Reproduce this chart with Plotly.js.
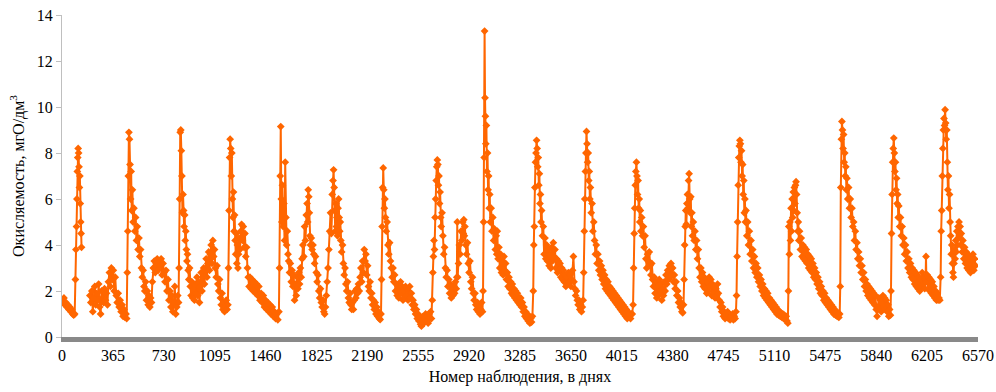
<!DOCTYPE html>
<html><head><meta charset="utf-8">
<script src="https://cdn.plot.ly/plotly-3.0.1.min.js"></script>
<style>html,body{margin:0;padding:0;background:#fff}#c{width:996px;height:392px}</style>
</head><body><div id="c"></div>
<script>
// [day, value] pairs, by season
const season1 = [[0,1.6],[7,1.5],[14,1.7],[21,1.4],[28,1.5],[35,1.3],[42,1.4],[49,1.2],[56,1.3],[63,1.1],[70,1.2],[77,1.0],[84,0.95],[91,1.0],[96,2.5],[100,3.8],[104,4.8],[107,6.0],[110,7.2],[113,7.8],[116,8.2],[119,8.0],[122,7.4],[125,6.5],[128,7.0],[131,5.8],[134,5.0],[137,4.5],[140,3.9]];
const season2 = [[200,1.8],[207,1.5],[214,2.0],[221,1.1],[228,1.7],[235,2.2],[242,1.4],[249,1.9],[256,1.6],[263,2.3],[270,1.3],[277,1.0],[284,2.0],[291,1.7],[298,1.5],[305,2.1],[312,1.6],[319,1.9],[326,1.4],[333,2.4],[340,2.8],[347,2.2],[354,3.0],[361,2.5],[368,2.9],[375,2.0],[382,2.6],[389,1.8],[396,1.5],[403,1.9],[410,1.3],[417,1.6],[424,1.1],[431,1.4],[438,0.9],[445,1.2],[452,0.85],[459,1.0],[464,0.8],
[468,2.8],[472,4.6],[476,7.0],[480,8.9],[484,8.6],[488,7.5],[492,6.0],[496,7.2],[500,5.5],[505,6.4],[510,5.0],[516,5.6],[522,4.6],[528,5.2],[534,4.2],[540,4.8],[546,3.8],[552,4.3],[558,3.5],[564,3.8],[570,3.0],[576,2.6],[582,2.9],[588,2.2],[594,2.0],[600,2.4],[606,1.6],[612,2.0],[618,1.4],[624,1.8],[630,1.3],[636,1.7],[642,1.5],
[648,2.4],[655,3.0],[662,3.3],[669,2.8],[676,3.2],[683,3.4],[690,2.9],[697,3.3],[704,3.1],[711,3.4],[718,2.7],[725,3.2],[732,2.8],[739,2.4],[746,2.9],[753,2.0],[760,2.5],[767,1.6],[774,2.0],[781,1.3],[788,1.8],[795,1.1],[802,1.5],[809,2.2],[816,1.0],[823,1.3],[830,1.8]];
const season3 = [[836,1.5],[840,3.0],[844,6.0],[848,8.9],[852,9.0],[856,8.1],[860,7.0],[864,5.4],[868,6.2],[872,5.5],[876,4.8],[880,5.3],[884,4.2],[888,4.6],[892,3.8],[896,3.3],[900,3.6],[905,2.9],[910,2.5],[915,3.0],[920,2.2],[926,1.8],[932,2.4],[938,1.7],[944,2.1],[950,1.6],[956,2.3],[962,1.9],[968,2.6],[974,1.8],[980,2.4],[986,1.5],[992,2.2],[998,2.8],[1004,2.0],[1010,2.6],[1016,3.0],[1022,2.3],[1028,2.9],[1034,3.4],[1040,2.6],[1046,3.2],[1052,3.7],[1058,2.9],[1064,3.6],[1070,4.0],[1076,3.2],[1082,4.2],[1088,3.5],[1094,3.8],[1100,3.0],[1106,2.6],[1112,3.1],[1118,2.3],[1124,2.0],[1130,2.5],[1136,1.7],[1142,1.4],[1148,1.9],[1154,1.2],[1160,1.5],[1166,1.1],[1172,1.3],[1178,1.6],[1184,1.2]];
const season4 = [[1190,1.4],[1194,3.0],[1198,5.5],[1202,7.8],[1206,8.6],[1210,8.2],[1214,7.0],[1218,8.0],[1222,6.0],[1226,5.2],[1230,6.3],[1234,4.6],[1238,5.3],[1242,4.2],[1246,3.6],[1250,4.5],[1254,3.2],[1258,4.0],[1262,3.0],[1266,3.6],[1270,4.3],[1276,3.8],[1282,4.6],[1288,4.9],[1294,4.2],[1300,4.8],[1306,3.9],[1312,4.5],[1318,3.5],[1324,3.9],[1330,3.0],[1336,2.6],[1342,2.2],[1348,2.6],[1356,2.1],[1364,2.5],[1372,2.0],[1380,2.4],[1388,1.9],[1396,2.3],[1404,1.8],[1412,2.2],[1420,1.6],[1428,1.9],[1436,1.5],[1444,1.8],[1452,1.3],[1460,1.6],[1468,1.2],[1476,1.5],[1484,1.1],[1492,1.4],[1500,1.0],[1508,1.3],[1516,0.9],[1524,1.1],[1532,0.8],[1540,1.0],[1548,0.75],[1556,1.1]];
const season5 = [[1560,3.0],[1565,7.0],[1569,9.15],[1573,6.0],[1577,5.0],[1581,6.6],[1586,4.8],[1591,5.8],[1596,4.2],[1601,7.6],[1606,5.2],[1611,4.0],[1616,4.6],[1621,3.6],[1626,3.3],[1632,2.8],[1638,3.2],[1644,2.4],[1650,2.9],[1656,2.2],[1662,2.7],[1668,1.6],[1674,2.3],[1680,1.8],[1686,2.6],[1692,2.1],[1698,2.8],[1704,2.3],[1710,3.0],[1716,2.6],[1722,3.4],[1728,4.0],[1734,3.5],[1740,4.8],[1746,4.2],[1752,5.3],[1758,5.8],[1762,5.0],[1766,6.4],[1770,6.1],[1774,5.4],[1778,4.4],[1782,4.0],[1788,4.3],[1794,3.8],[1800,4.0],[1806,3.6],[1812,3.2],[1818,3.5],[1824,2.8],[1830,2.4],[1836,2.7],[1842,2.0],[1848,1.7],[1854,2.1],[1860,1.5],[1866,1.3],[1872,1.6],[1878,1.1],[1884,1.0],[1890,1.3],[1896,1.8],[1902,2.4],[1908,3.0],[1914,3.8],[1920,4.6],[1926,5.4],[1932,4.5],[1938,6.2],[1944,6.8],[1948,7.27],[1952,6.5],[1956,5.5],[1960,4.6],[1964,5.8],[1968,4.8],[1972,5.2],[1976,4.4],[1980,5.6],[1984,6.0],[1988,5.2],[1992,4.6],[1996,5.0],[2000,4.2],[2006,3.7],[2012,4.0],[2018,3.2],[2024,2.7],[2030,3.0],[2036,2.3],[2042,2.0],[2048,2.4],[2054,1.7],[2060,1.5],[2066,1.9],[2072,1.4],[2078,1.2],[2084,1.5],[2090,1.2],[2096,1.6],[2102,2.0],[2108,1.7],[2114,2.1],[2120,1.9],[2126,2.3],[2132,2.0],[2138,2.6],[2144,3.0],[2150,2.4],[2156,3.3],[2162,2.8],[2168,3.8],[2174,3.3],[2180,3.6],[2186,2.7],[2192,3.1],[2198,2.2],[2204,2.0],[2210,2.4],[2216,1.7],[2222,1.9],[2228,1.4],[2234,1.6],[2240,1.2],[2246,1.5],[2252,1.0],[2258,1.3],[2264,0.9],[2270,1.1],[2276,0.8],[2282,0.76],[2288,1.0]];
const season6 = [[2292,2.5],[2296,4.8],[2300,6.5],[2304,7.35],[2308,6.4],[2312,5.6],[2316,6.0],[2320,5.2],[2326,4.6],[2332,5.0],[2338,4.0],[2344,3.6],[2350,4.1],[2356,3.3],[2362,3.0],[2368,2.6],[2374,3.0],[2380,2.4],[2386,2.7],[2392,2.0],[2398,2.3],[2404,1.8],[2410,2.2],[2416,1.7],[2422,2.1],[2428,2.4],[2434,1.9],[2440,2.2],[2446,1.6],[2452,2.0],[2458,1.7],[2464,2.2],[2470,1.8],[2476,2.1],[2482,1.6],[2488,1.9],[2494,2.2],[2500,1.7],[2506,1.9],[2512,1.4],[2518,1.6],[2524,1.2],[2530,1.4],[2536,1.0],[2542,1.2],[2548,0.8],[2554,1.0],[2560,0.7],[2566,0.9],[2572,0.55],[2578,0.47],[2584,0.7],[2590,0.9],[2596,0.6],[2602,0.8],[2608,1.0],[2614,0.7],[2620,0.9],[2626,0.6],[2632,1.0],[2638,0.8],[2644,1.1],[2650,0.8],[2656,1.6],[2660,2.8],[2664,3.5],[2668,4.2],[2672,3.8],[2676,5.2],[2680,6.0],[2684,6.8],[2688,7.4],[2692,7.7],[2696,7.5],[2700,6.6],[2704,7.0],[2708,5.8],[2712,6.3],[2716,5.2],[2720,4.8],[2726,5.4],[2732,4.4],[2738,3.6],[2744,3.9],[2750,3.0],[2756,2.6],[2762,2.9],[2768,2.2],[2774,2.5],[2780,1.9],[2786,2.3],[2792,1.7],[2798,2.1],[2804,1.8],[2810,2.2],[2816,1.9],[2822,2.4],[2828,2.1],[2832,2.6],[2835,5.0],[2838,2.6],[2844,3.2],[2850,4.0],[2856,3.6],[2862,4.6],[2868,4.2],[2874,5.0],[2878,4.5],[2882,5.1],[2886,4.4],[2890,4.8],[2896,4.0],[2902,3.6],[2908,4.1],[2914,3.2],[2920,2.8],[2926,3.3],[2932,2.4],[2938,2.1],[2944,2.6],[2950,1.9],[2956,1.6],[2962,1.9],[2968,1.4],[2974,1.2],[2980,1.5],[2986,1.1],[2992,1.3],[2998,1.0],[3004,1.2],[3010,1.5],[3016,1.1],[3020,2.0],[3024,5.0],[3028,7.8],[3031,13.3],[3034,10.4],[3037,9.6],[3040,8.4],[3044,9.2],[3048,7.2],[3052,8.0],[3056,6.4],[3060,7.0],[3064,5.6],[3068,6.2],[3072,5.0],[3078,5.6],[3084,4.6],[3090,5.2],[3096,4.2],[3102,4.7],[3108,3.8],[3114,4.4],[3118,3.6],[3122,4.6],[3128,3.4],[3134,3.9],[3140,3.0],[3146,3.6],[3152,2.8],[3158,3.3],[3164,2.7],[3170,3.5],[3176,2.9],[3182,3.2],[3188,2.5],[3194,2.8],[3200,2.2],[3206,2.6],[3212,2.1],[3218,2.4],[3224,1.9],[3230,2.3],[3236,1.8],[3242,2.1],[3248,1.7],[3254,2.0],[3260,1.6],[3266,1.9],[3272,1.5],[3278,1.7]];
const season7 = [[3284,1.4],[3290,1.7],[3296,1.3],[3302,1.5],[3308,1.1],[3314,1.3],[3320,0.9],[3326,1.1],[3332,0.8],[3338,1.0],[3344,0.7],[3350,0.9],[3356,0.6],[3362,0.8],[3368,0.65],[3374,0.9],[3380,2.0],[3384,4.0],[3388,4.8],[3392,6.5],[3396,7.6],[3400,8.0],[3404,8.55],[3408,8.2],[3412,7.4],[3416,7.8],[3420,6.6],[3424,7.1],[3428,5.8],[3432,6.2],[3436,5.0],[3440,5.5],[3446,4.4],[3452,4.8],[3458,3.6],[3464,4.3],[3470,3.4],[3476,4.0],[3482,3.3],[3488,3.8],[3494,3.1],[3500,3.6],[3506,3.0],[3512,3.9],[3518,3.3],[3524,4.1],[3530,3.5],[3536,3.8],[3542,3.0],[3548,3.4],[3554,2.8],[3560,3.3],[3566,2.9],[3572,3.2],[3578,2.6],[3584,3.0],[3590,2.5],[3596,2.9],[3602,2.4],[3608,2.7],[3614,2.2],[3620,2.6],[3626,2.3],[3632,2.8],[3638,2.4],[3644,2.7],[3650,2.2],[3656,2.5],[3662,2.9],[3668,3.5],[3672,2.4],[3678,2.1],[3684,1.8],[3690,2.0],[3696,1.6],[3702,1.4],[3708,1.6],[3714,1.2],[3720,1.4],[3726,1.1],[3732,1.3],[3738,1.6],[3742,2.8],[3746,4.6],[3750,6.0],[3754,7.2],[3758,8.0],[3762,8.94],[3766,8.4],[3770,7.6],[3774,8.0],[3778,6.8],[3782,7.2],[3786,6.0],[3790,6.5],[3796,5.4],[3802,5.8],[3808,4.6],[3814,5.0],[3820,4.2],[3826,3.6],[3832,4.0],[3838,3.2],[3844,3.6],[3850,2.9],[3856,3.3],[3862,2.7],[3868,3.1],[3874,2.5],[3880,2.9],[3886,2.3],[3892,2.7],[3898,2.1],[3904,2.5],[3910,2.0],[3916,2.4],[3922,1.9],[3928,2.2],[3934,1.8],[3940,2.1],[3946,1.7],[3952,2.0],[3958,1.6],[3964,1.9],[3970,1.5],[3976,1.8],[3982,1.4],[3988,1.7],[3994,1.3],[4000,1.6],[4006,1.2],[4012,1.5],[4018,1.1],[4024,1.4],[4030,1.0],[4036,1.3],[4042,0.9],[4048,1.2],[4054,0.8],[4060,1.1],[4066,0.85],[4072,1.0],[4078,0.8],[4084,1.0]];
const season8 = [[4090,1.0],[4096,1.4],[4100,3.0],[4104,4.5],[4108,5.6],[4112,6.6],[4116,7.2],[4120,7.6],[4124,7.0],[4128,6.2],[4132,6.8],[4136,5.6],[4140,6.0],[4144,5.0],[4148,5.5],[4152,4.6],[4158,5.2],[4164,4.4],[4170,4.8],[4176,3.9],[4182,4.4],[4188,3.4],[4194,3.0],[4200,3.6],[4206,3.3],[4212,3.7],[4218,3.1],[4224,2.7],[4230,3.2],[4236,2.5],[4242,2.2],[4248,2.6],[4254,1.9],[4260,2.4],[4266,1.7],[4272,2.2],[4278,1.8],[4284,2.5],[4290,2.0],[4296,2.3],[4302,1.6],[4308,2.1],[4314,1.8],[4320,2.4],[4326,2.0],[4332,2.7],[4338,2.3],[4344,2.9],[4350,2.5],[4356,3.1],[4362,2.6],[4368,3.2],[4374,2.7],[4380,3.0],[4386,2.4],[4392,2.7],[4398,2.1],[4404,2.4],[4410,1.8],[4416,2.0],[4422,1.5],[4428,1.7],[4434,1.3],[4440,1.5],[4446,1.1],[4452,1.05],[4458,1.4],[4462,2.5],[4466,4.0],[4470,4.8],[4474,5.5],[4478,4.9],[4482,5.8],[4486,6.2],[4490,5.6],[4494,6.8],[4498,7.1],[4502,6.0],[4506,5.4],[4510,6.1],[4514,4.8],[4518,5.4],[4522,4.4],[4528,5.0],[4534,4.2],[4540,4.6],[4546,3.8],[4552,4.2],[4558,3.4],[4564,3.8],[4570,3.0],[4576,2.6],[4582,3.0],[4588,2.4],[4594,2.8],[4600,2.2],[4606,2.6],[4612,2.1],[4618,2.5],[4624,1.9],[4630,2.4],[4636,2.0],[4642,2.6],[4648,2.2],[4654,2.5],[4660,1.8],[4666,2.3],[4672,1.9],[4678,2.2],[4684,1.7],[4690,2.1],[4696,1.8],[4702,2.3],[4708,1.9],[4714,1.6],[4720,1.3],[4726,1.5],[4732,1.1],[4738,1.3],[4744,0.9],[4750,1.1],[4756,0.8],[4762,1.0],[4768,0.85],[4774,1.1],[4780,0.8],[4786,1.0],[4792,0.75],[4798,0.9],[4804,0.8],[4810,1.0],[4816,0.75],[4822,0.9],[4828,0.8],[4834,1.1]];
const season9 = [[4838,1.8],[4842,3.5],[4846,5.0],[4850,6.6],[4854,7.8],[4858,8.3],[4862,8.55],[4866,8.4],[4870,7.6],[4874,8.1],[4878,7.0],[4882,7.5],[4886,6.2],[4890,6.8],[4894,5.4],[4898,6.0],[4902,5.0],[4906,5.5],[4912,4.4],[4918,5.0],[4924,4.0],[4930,4.6],[4936,3.6],[4942,4.2],[4948,3.3],[4954,3.8],[4960,3.0],[4966,3.5],[4972,2.8],[4978,3.2],[4984,2.6],[4990,3.0],[4996,2.4],[5002,2.7],[5008,2.2],[5014,2.5],[5020,2.0],[5026,2.3],[5032,1.8],[5038,2.1],[5044,1.7],[5050,2.0],[5056,1.6],[5062,1.9],[5068,1.5],[5074,1.7],[5080,1.4],[5086,1.6],[5092,1.3],[5098,1.5],[5104,1.2],[5110,1.4],[5116,1.1],[5122,1.3],[5128,1.0],[5134,1.2],[5140,0.95],[5146,1.1],[5152,0.9],[5158,1.05],[5164,0.85],[5170,1.0],[5176,0.8],[5182,0.95],[5188,0.75],[5194,0.9],[5200,0.7],[5206,0.6],
[5210,2.0],[5213,4.8],[5217,3.6],[5221,5.0],[5225,4.2],[5229,5.6],[5233,4.6],[5237,6.0],[5241,5.2],[5245,6.3],[5249,5.5],[5253,6.5],[5257,5.8],[5261,6.6],[5265,6.75],[5269,6.2],[5273,5.4],[5277,4.6],[5281,5.0],[5285,4.2],[5290,4.6],[5296,3.8],[5302,4.3],[5308,3.5],[5314,4.0],[5320,3.4],[5326,3.9],[5332,3.3],[5338,3.8],[5344,3.2],[5350,3.6],[5356,3.0],[5362,3.5],[5368,2.9],[5374,3.4],[5380,2.8],[5386,3.2],[5392,2.6],[5398,3.0],[5404,2.5],[5410,2.8],[5416,2.3],[5422,2.6],[5428,2.1],[5434,2.4],[5440,1.9],[5446,2.2],[5452,1.8],[5458,2.0],[5464,1.6],[5470,1.9],[5476,1.5],[5482,1.7],[5488,1.4],[5494,1.6],[5500,1.3],[5506,1.5],[5512,1.2],[5518,1.4],[5524,1.1],[5530,1.3],[5536,1.0],[5542,1.2],[5548,0.95],[5554,1.1],[5560,0.9],[5566,1.05],[5572,0.85],[5578,1.0]];
const season10 = [[5582,2.2],[5586,6.5],[5590,8.6],[5594,9.37],[5598,9.0],[5602,8.2],[5606,8.8],[5610,7.6],[5614,8.0],[5618,7.0],[5622,7.4],[5626,6.4],[5630,6.9],[5636,6.0],[5642,6.5],[5648,5.6],[5654,6.0],[5660,5.2],[5666,5.6],[5672,4.8],[5678,5.0],[5684,4.2],[5690,4.6],[5696,3.8],[5702,4.1],[5708,3.4],[5714,3.7],[5720,3.1],[5726,3.4],[5732,2.8],[5738,3.1],[5744,2.5],[5750,2.8],[5756,2.2],[5762,2.5],[5768,2.0],[5774,2.3],[5780,1.8],[5786,2.2],[5792,1.7],[5798,2.1],[5804,1.6],[5810,2.0],[5816,1.5],[5822,1.9],[5828,1.4],[5834,1.8],[5840,1.2],[5846,0.9],[5852,1.3],[5858,1.7],[5864,1.2],[5870,1.6],[5876,1.1],[5882,1.5],[5888,1.8],[5894,1.3],[5900,1.7],[5906,1.2],[5912,1.6],[5918,1.1],[5924,1.4],[5930,0.9],[5936,1.2],[5942,0.95],
[5946,2.0],[5950,4.5],[5954,6.2],[5958,7.6],[5962,8.2],[5966,8.65],[5970,8.0],[5974,7.2],[5978,7.6],[5982,6.4],[5986,6.9],[5990,5.8],[5994,6.2],[5998,5.2],[6002,5.7],[6008,4.8],[6014,5.2],[6020,4.4],[6026,4.8],[6032,4.0],[6038,4.3],[6044,3.6],[6050,4.0],[6056,3.3],[6062,3.7],[6068,3.0],[6074,3.4],[6080,2.8],[6086,3.2],[6092,2.6],[6098,3.0],[6104,2.5],[6110,2.9],[6116,2.3],[6122,2.8],[6128,2.2],[6134,2.7],[6140,2.1],[6146,2.6],[6152,2.0],[6158,2.5],[6164,2.2],[6170,2.8],[6176,2.3],[6182,2.6],[6188,2.1],[6194,2.5],[6197,3.5],[6200,2.4],[6206,2.7],[6212,2.1],[6218,2.6],[6224,2.0],[6230,2.5],[6236,1.9],[6242,2.4],[6248,1.8],[6254,2.2],[6260,1.7],[6266,2.0],[6272,1.6],[6278,1.9],[6284,1.6],[6290,1.7],[6296,1.6]];
const season11 = [[6302,2.6],[6306,4.6],[6310,5.5],[6314,7.0],[6318,8.2],[6322,9.0],[6326,9.5],[6330,9.2],[6334,9.88],[6338,9.3],[6342,8.6],[6346,9.0],[6350,7.6],[6354,6.4],[6358,7.0],[6362,5.6],[6366,6.2],[6370,5.0],[6374,4.4],[6378,3.6],[6382,4.0],[6386,3.2],[6390,2.8],[6394,2.6],[6398,3.2],[6402,3.8],[6406,3.4],[6410,4.2],[6414,3.7],[6418,4.6],[6422,4.0],[6426,4.8],[6430,4.3],[6434,5.0],[6438,4.4],[6442,4.8],[6446,4.0],[6450,4.5],[6456,3.7],[6462,4.2],[6468,3.4],[6474,3.9],[6480,3.2],[6486,3.7],[6492,3.0],[6498,3.6],[6504,2.9],[6510,3.4],[6516,2.8],[6522,3.5],[6528,3.0],[6534,3.6],[6540,2.9],[6546,3.4],[6552,3.1]];

const xTicks = [0,365,730,1095,1460,1825,2190,2555,2920,3285,3650,4015,4380,4745,5110,5475,5840,6205,6570];
const yTicks = [0,2,4,6,8,10,12,14];

const seasons = [season1, season2, season3, season4, season5, season6, season7, season8, season9, season10, season11];
const xs = [], ys = [];
seasons.forEach((s, i) => {
  s.forEach(p => { xs.push(p[0]); ys.push(p[1]); });
  if (i === 0) { xs.push(170); ys.push(null); } // no observations in this interval
});

const serif = '"Liberation Serif", "Times New Roman", Times, serif';
Plotly.newPlot('c', [{
  x: xs, y: ys, type: 'scatter', mode: 'lines+markers',
  line: {color: '#FF6600', width: 2},
  marker: {symbol: 'diamond', size: 6, color: '#FF6600'},
  connectgaps: false, hoverinfo: 'skip'
}], {
  width: 996, height: 392,
  margin: {l: 62, r: 18, t: 15, b: 54.5},
  paper_bgcolor: '#fff', plot_bgcolor: '#fff',
  showlegend: false,
  font: {family: serif, size: 16, color: '#000'},
  xaxis: {
    range: [0, 6570], tickvals: xTicks, ticktext: xTicks.map(String),
    showgrid: false, zeroline: false, showline: true, linecolor: '#898989', linewidth: 5,
    ticks: '', tickfont: {family: serif, size: 16, color: '#000'},
    title: {text: 'Номер наблюдения, в днях', font: {family: serif, size: 16, color: '#000'}, standoff: 9}
  },
  yaxis: {
    range: [0, 14], tickvals: yTicks, ticktext: yTicks.map(String),
    showgrid: false, zeroline: false, showline: true, linecolor: '#BFBFBF', linewidth: 1,
    ticks: 'outside', ticklen: 5, tickcolor: '#BFBFBF', tickwidth: 1,
    tickfont: {family: serif, size: 16, color: '#000'},
    title: {text: 'Окисляемость, мгО/дм<sup>3</sup>', font: {family: serif, size: 16, color: '#000'}, standoff: 8}
  }
}, {displayModeBar: false, staticPlot: true});
</script></body></html>
